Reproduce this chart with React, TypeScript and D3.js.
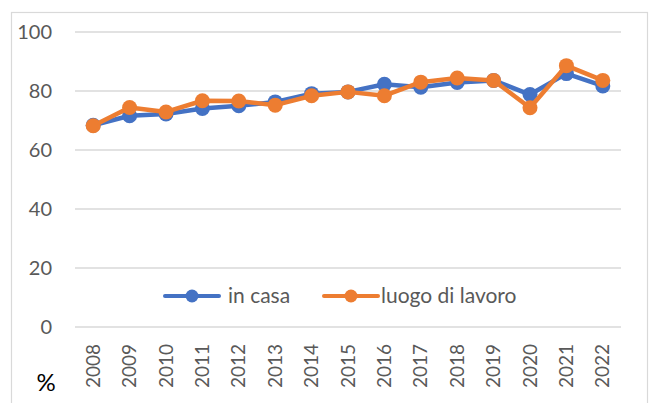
import React, { useEffect, useRef } from 'react';
import * as d3 from 'd3';

const YEARS = ["2008", "2009", "2010", "2011", "2012", "2013", "2014", "2015", "2016", "2017", "2018", "2019", "2020", "2021", "2022"];
const IN_CASA = [68.4, 71.6, 72.2, 74.1, 75.0, 76.3, 79.1, 79.7, 82.3, 81.3, 82.9, 83.6, 78.8, 85.9, 81.7];
const LUOGO_LAVORO = [68.2, 74.4, 72.9, 76.7, 76.6, 75.2, 78.4, 79.7, 78.4, 83.0, 84.4, 83.6, 74.3, 88.6, 83.6];
const Y_TICKS = [0, 20, 40, 60, 80, 100];
const SERIES_NAMES = ["in casa", "luogo di lavoro"];
const COLORS = ["#4472C4", "#ED7D31"];

const FONT = "Lato, 'Open Sans', sans-serif";

const App = () => {
    const svgRef = useRef<SVGSVGElement>(null);
    const width = 654;
    const height = 403;
    const plot = { left: 75, right: 621, top: 32, bottom: 327 };

    useEffect(() => {
        const svg = d3.select(svgRef.current);
        svg.selectAll("*").remove();

        // chart frame
        svg.append("rect")
            .attr("x", 11.5).attr("y", 12.5)
            .attr("width", 636).attr("height", 400)
            .attr("fill", "#fff")
            .attr("stroke", "#d9d9d9")
            .attr("stroke-width", 1.2);

        const x = d3.scaleBand().domain(YEARS).range([plot.left, plot.right]);
        const y = d3.scaleLinear().domain([0, 100]).range([plot.bottom, plot.top]);

        // gridlines + y labels
        const grid = svg.append("g");
        grid.selectAll("line")
            .data(Y_TICKS)
            .enter().append("line")
            .attr("x1", plot.left).attr("x2", plot.right)
            .attr("y1", d => y(d)).attr("y2", d => y(d))
            .attr("stroke", "#d9d9d9")
            .attr("stroke-width", 1.5);
        grid.selectAll("text")
            .data(Y_TICKS)
            .enter().append("text")
            .attr("x", 52)
            .attr("y", d => y(d))
            .attr("dy", "0.35em")
            .attr("text-anchor", "end")
            .attr("font-family", FONT)
            .attr("font-size", 20)
            .attr("fill", "#595959")
            .text(d => d);

        // x labels, rotated
        svg.append("g").selectAll("text")
            .data(YEARS)
            .enter().append("text")
            .attr("transform", d => "translate(" + (x(d)! + x.bandwidth() / 2) + " 344) rotate(-90)")
            .attr("dy", "0.35em")
            .attr("text-anchor", "end")
            .attr("font-family", FONT)
            .attr("font-size", 19)
            .attr("fill", "#595959")
            .text(d => d);

        // % label
        svg.append("text")
            .attr("x", 46).attr("y", 391)
            .attr("text-anchor", "middle")
            .attr("font-family", FONT)
            .attr("font-size", 24)
            .attr("fill", "#000")
            .text("%");

        const line = d3.line<number>()
            .x((d, i) => x(YEARS[i])! + x.bandwidth() / 2)
            .y(d => y(d));

        [IN_CASA, LUOGO_LAVORO].forEach((values, s) => {
            const g = svg.append("g");
            g.append("path")
                .datum(values)
                .attr("d", line)
                .attr("fill", "none")
                .attr("stroke", COLORS[s])
                .attr("stroke-width", 4.5)
                .attr("stroke-linejoin", "round");
            g.selectAll("circle")
                .data(values)
                .enter().append("circle")
                .attr("cx", (d, i) => x(YEARS[i])! + x.bandwidth() / 2)
                .attr("cy", d => y(d))
                .attr("r", 7.5)
                .attr("fill", COLORS[s]);
        });

        // legend
        const legendX = [165, 324];
        const legend = svg.append("g");
        SERIES_NAMES.forEach((name, s) => {
            const lx = legendX[s];
            legend.append("line")
                .attr("x1", lx).attr("x2", lx + 54)
                .attr("y1", 296).attr("y2", 296)
                .attr("stroke", COLORS[s])
                .attr("stroke-width", 4)
                .attr("stroke-linecap", "round");
            legend.append("circle")
                .attr("cx", lx + 27).attr("cy", 296)
                .attr("r", 6.5)
                .attr("fill", COLORS[s]);
            legend.append("text")
                .attr("x", lx + (s === 0 ? 63 : 57)).attr("y", 296)
                .attr("dy", "0.35em")
                .attr("font-family", FONT)
                .attr("font-size", 21)
                .attr("fill", "#595959")
                .text(name);
        });
    }, []);

    return <svg ref={svgRef} width={width} height={height}
        style={{ position: 'absolute', left: 0, top: 0, background: '#fff' }} />;
};

export default App;
